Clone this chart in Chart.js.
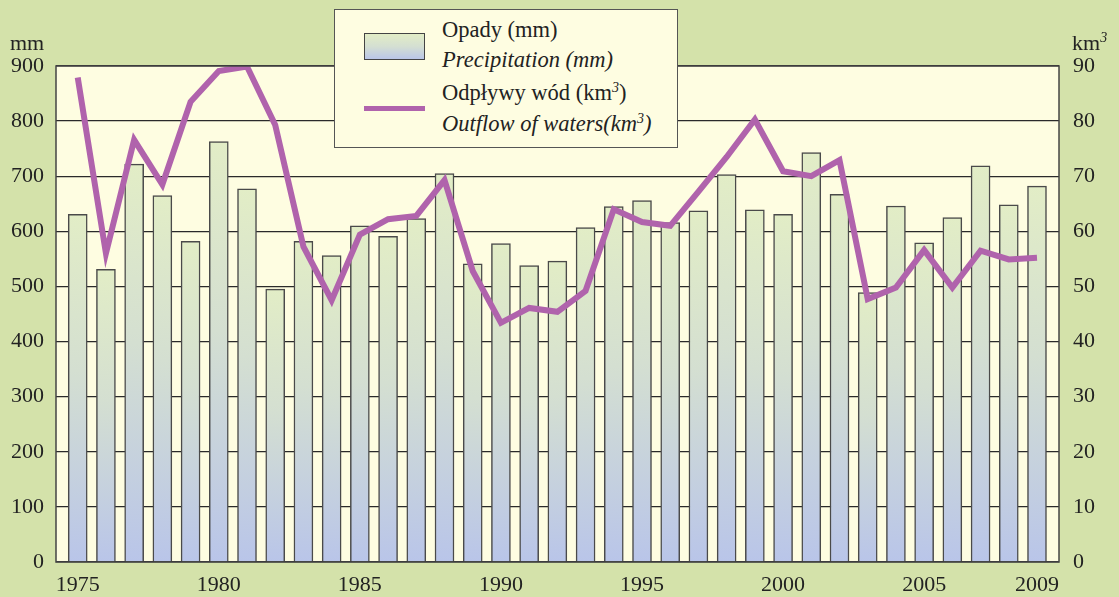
<!DOCTYPE html>
<html>
<head>
<meta charset="utf-8">
<script src="https://cdn.jsdelivr.net/npm/chart.js@4.4.1/dist/chart.umd.min.js"></script>
<style>
  body { margin: 0; background: #d4e2aa; }
  #wrap { position: relative; width: 1119px; height: 597px; font-family: "Liberation Serif", "Times New Roman", Times, "DejaVu Serif", serif; color: #222; }
  canvas { position: absolute; left: 0; top: 0; }
  .unit { position: absolute; font-size: 22px; }
  #legend { position: absolute; left: 334px; top: 9px; width: 344px; height: 139px;
            background: #fefde1; border: 1.5px solid #555; box-sizing: border-box; }
  #legend .sw-bar { position: absolute; left: 29px; top: 23px; width: 61px; height: 27px;
            border: 1.5px solid #444; box-sizing: border-box;
            background: linear-gradient(#e2edc6, #d4dfd2 50%, #bac6e8); }
  #legend .sw-line { position: absolute; left: 29px; top: 96px; width: 61px; height: 5px; background: #b063ac; }
  #legend .txt { position: absolute; left: 107px; font-size: 22.5px; line-height: 22.5px; white-space: nowrap; }
  sup { font-size: 14px; vertical-align: 8px; line-height: 0; }
</style>
</head>
<body>
<div id="wrap">
  <canvas id="Chart" width="1119" height="597"></canvas>
  <div class="unit" style="left:10px; top:30px;">mm</div>
  <div class="unit" style="left:1072px; top:30px;">km<sup><i>3</i></sup></div>
  <div id="legend">
    <div class="sw-bar"></div>
    <div class="sw-line"></div>
    <div class="txt" style="top:9px;">Opady (mm)</div>
    <div class="txt" style="top:39px;"><i>Precipitation (mm)</i></div>
    <div class="txt" style="top:72px;">Odpływy wód (km<sup><i>3</i></sup>)</div>
    <div class="txt" style="top:103px;"><i>Outflow of waters(km<sup>3</sup>)</i></div>
  </div>
</div>
<script>
/* data */
const years = [1975, 1976, 1977, 1978, 1979, 1980, 1981, 1982, 1983, 1984,
               1985, 1986, 1987, 1988, 1989, 1990, 1991, 1992, 1993, 1994,
               1995, 1996, 1997, 1998, 1999, 2000, 2001, 2002, 2003, 2004,
               2005, 2006, 2007, 2008, 2009];
const precipitation = [631, 531, 722, 665, 582, 763, 677, 495, 582, 556,
                       610, 591, 623, 705, 541, 578, 538, 546, 607, 645,
                       656, 616, 637, 703, 639, 631, 743, 667, 489, 646,
                       579, 625, 719, 648, 682];
const outflow = [87.9, 56.0, 76.6, 68.5, 83.5, 89.1, 89.9, 79.3, 57.2, 47.5,
                 59.4, 62.2, 62.8, 69.3, 52.8, 43.4, 46.1, 45.4, 49.2, 64.0,
                 61.7, 61.0, 67.2, 73.5, 80.3, 70.9, 70.0, 72.9, 47.7, 49.8,
                 56.6, 49.8, 56.5, 54.9, 55.2];
const yearTicks = [1975, 1980, 1985, 1990, 1995, 2000, 2005, 2009];
const mmTicks = [0, 100, 200, 300, 400, 500, 600, 700, 800, 900];
const kmTicks = [0, 10, 20, 30, 40, 50, 60, 70, 80, 90];

const tickFont = { family: "'Liberation Serif', 'Times New Roman', Times, 'DejaVu Serif', serif", size: 22 };

/* each bar gets its own gradient, green on top to blue at the base */
function barFill(c) {
    const chart = c.chart;
    if (!chart.chartArea || c.type !== 'data') return '#d4dfd0';
    const y = chart.scales.y;
    const top = y.getPixelForValue(c.raw.y);
    const bottom = y.getPixelForValue(0);
    const g = chart.ctx.createLinearGradient(0, top, 0, bottom);
    g.addColorStop(0, '#e2edc6');
    g.addColorStop(0.45, '#d4dfd1');
    g.addColorStop(1, '#b9c5e9');
    return g;
}

const plotBackground = {
    id: 'plotBackground',
    beforeDraw(chart) {
        const a = chart.chartArea, ctx = chart.ctx;
        ctx.save();
        ctx.fillStyle = '#fefde1';
        ctx.fillRect(a.left, a.top, a.right - a.left, a.bottom - a.top);
        ctx.restore();
    },
    afterDatasetsDraw(chart) {
        const a = chart.chartArea, ctx = chart.ctx;
        ctx.save();
        ctx.strokeStyle = '#444';
        ctx.lineWidth = 1.5;
        ctx.strokeRect(a.left, a.top, a.right - a.left, a.bottom - a.top);
        ctx.restore();
    }
};

const ctx = document.getElementById('Chart').getContext('2d');
const myChart = new Chart(ctx, {
    data: {
        datasets: [{
            type: 'line',
            label: 'Odpływy wód (km3)',
            data: years.map((yr, i) => ({ x: yr, y: outflow[i] })),
            yAxisID: 'y2',
            borderColor: '#b063ac',
            borderWidth: 6,
            borderJoinStyle: 'miter',
            pointRadius: 0,
            tension: 0,
            order: 0
        }, {
            type: 'bar',
            label: 'Opady (mm)',
            data: years.map((yr, i) => ({ x: yr, y: precipitation[i] })),
            yAxisID: 'y',
            backgroundColor: barFill,
            borderColor: '#4a4a4a',
            borderWidth: 1.5,
            borderSkipped: 'bottom',
            barThickness: 19,
            order: 1
        }]
    },
    options: {
        responsive: false,
        animation: false,
        devicePixelRatio: 1,
        layout: { padding: { top: 66, left: 0, right: 0, bottom: 0 } },
        plugins: { legend: { display: false }, tooltip: { enabled: false } },
        scales: {
            x: {
                type: 'linear',
                offset: false,
                min: 1974.23,
                max: 2009.78,
                grid: { display: false, drawTicks: false, offset: false },
                border: { display: false },
                afterBuildTicks: s => { s.ticks = yearTicks.map(v => ({ value: v })); },
                afterFit: s => { s.height = 35; },
                ticks: { font: tickFont, color: '#222', padding: 10, maxRotation: 0, autoSkip: false,
                         callback: v => String(v) }
            },
            y: {
                position: 'left',
                min: 0,
                max: 900,
                afterBuildTicks: s => { s.ticks = mmTicks.map(v => ({ value: v })); },
                afterFit: s => { s.width = 56; },
                grid: { color: '#2a2a2a', lineWidth: 1.3, drawTicks: false },
                border: { display: false },
                ticks: { font: tickFont, color: '#222', padding: 12 }
            },
            y2: {
                position: 'right',
                min: 0,
                max: 90,
                afterBuildTicks: s => { s.ticks = kmTicks.map(v => ({ value: v })); },
                afterFit: s => { s.width = 60; },
                grid: { display: false, drawTicks: false },
                border: { display: false },
                ticks: { font: tickFont, color: '#222', padding: 14 }
            }
        }
    },
    plugins: [plotBackground]
});
</script>
</body>
</html>
